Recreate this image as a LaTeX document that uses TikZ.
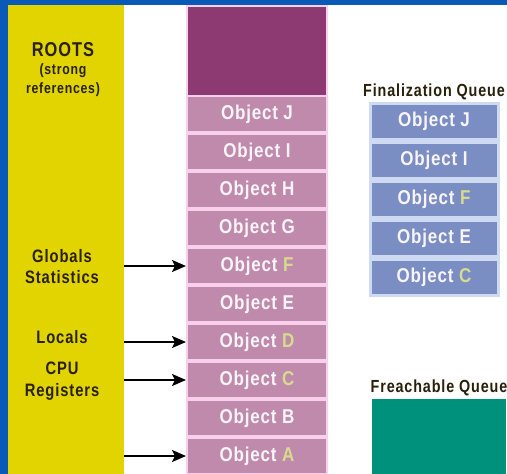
\documentclass[tikz,border=0pt]{standalone}
\usepackage{fontspec}
\setmainfont[FakeStretch=0.82, LetterSpace=5]{Liberation Sans}
\newfontfamily\cellfont[FakeStretch=0.85, LetterSpace=4]{Liberation Sans}
\usepackage{tikz}
\usetikzlibrary{arrows, arrows.meta, positioning}

\definecolor{frameblue}{RGB}{8,90,182}
\definecolor{rootyellow}{RGB}{225,212,0}
\definecolor{heapdark}{RGB}{142,58,114}
\definecolor{heapcell}{RGB}{192,138,172}
\definecolor{heapline}{RGB}{248,208,236}
\definecolor{queueblue}{RGB}{122,142,196}
\definecolor{queueline}{RGB}{205,218,242}
\definecolor{freachteal}{RGB}{0,145,125}
\definecolor{celltext}{RGB}{248,244,248}
\definecolor{hilite}{RGB}{214,220,140}
\definecolor{labeltext}{RGB}{40,32,10}
\newcommand{\hl}[1]{\textcolor{hilite}{#1}}

\begin{document}
\begin{tikzpicture}[x=1pt, y=-1pt, node distance=38pt, auto]
		\tikzstyle{panel} = [rectangle, fill=rootyellow, minimum width=116pt, minimum height=472pt, inner sep=0pt]
		\tikzstyle{rootlabel} = [text=labeltext, align=center, font=\fontsize{18}{21}\selectfont\bfseries]
		\tikzstyle{heap} = [rectangle, draw=heapline, line width=2pt, fill=heapcell, text=celltext, minimum width=140pt, minimum height=36pt, inner sep=0pt, font=\cellfont\fontsize{20}{20}\selectfont\bfseries]
		\tikzstyle{queue} = [rectangle, draw=queueline, line width=3pt, fill=queueblue, text=celltext, minimum width=128pt, minimum height=36pt, inner sep=0pt, node distance=39pt, font=\cellfont\fontsize{20}{20}\selectfont\bfseries]
		\tikzstyle{qtitle} = [text=labeltext, font=\fontsize{17.5}{17.5}\selectfont\bfseries]
		\tikzstyle{line} = [draw, -{Stealth[length=14pt, width=12pt, inset=3pt]}, line width=2pt]

		\useasboundingbox (0,0) rectangle (507,474);
		\fill[frameblue] (0,0) rectangle (507,474);
		\fill[white] (8,5) rectangle (507,474);

		% roots
		\node [panel, anchor=north west] (roots) at (8,5) {};
		\node [rootlabel, font=\fontsize{20}{20}\selectfont\bfseries] (rootstitle) at (63,50) {ROOTS};
		\node [rootlabel, font=\fontsize{15}{19}\selectfont\bfseries] (rootsnote) at (63,80) {(strong\\references)};
		\node [rootlabel] (globals) at (62,267) {Globals\\Statistics};
		\node [rootlabel] (locals) at (62,337) {Locals};
		\node [rootlabel, font=\fontsize{18}{22}\selectfont\bfseries] (cpu) at (62,381) {CPU\\Registers};

		% managed heap
		\node [heap, fill=heapdark, minimum height=90pt, anchor=north] (heaptop) at (257,5) {};
		\node [heap] (objJ) at (257,114) {Object J};
		\node [heap, below of=objJ] (objI) {Object I};
		\node [heap, below of=objI] (objH) {Object H};
		\node [heap, below of=objH] (objG) {Object G};
		\node [heap, below of=objG] (objF) {Object \hl{F}};
		\node [heap, below of=objF] (objE) {Object E};
		\node [heap, below of=objE] (objD) {Object \hl{D}};
		\node [heap, below of=objD] (objC) {Object \hl{C}};
		\node [heap, below of=objC] (objB) {Object B};
		\node [heap, below of=objB] (objA) {Object \hl{A}};

		\path [line] (roots.east |- objF) -- (objF.west);
		\path [line] (roots.east |- objD) -- (objD.west);
		\path [line] (roots.east |- objC) -- (objC.west);
		\path [line] (roots.east |- objA) -- (objA.west);

		% finalization queue
		\node [queue] (finJ) at (434,121) {Object J};
		\node [queue, below of=finJ] (finI) {Object I};
		\node [queue, below of=finI] (finF) {Object \hl{F}};
		\node [queue, below of=finF] (finE) {Object E};
		\node [queue, below of=finE] (finC) {Object \hl{C}};
		\node [qtitle, above=-2pt of finJ] (fintitle) {Finalization Queue};

		% freachable queue
		\node [rectangle, fill=freachteal, minimum width=134pt, minimum height=80pt, anchor=north] (freach) at (439,399) {};
		\node [qtitle, above=0pt of freach] (freachtitle) {Freachable Queue};
	\end{tikzpicture}
\end{document}
